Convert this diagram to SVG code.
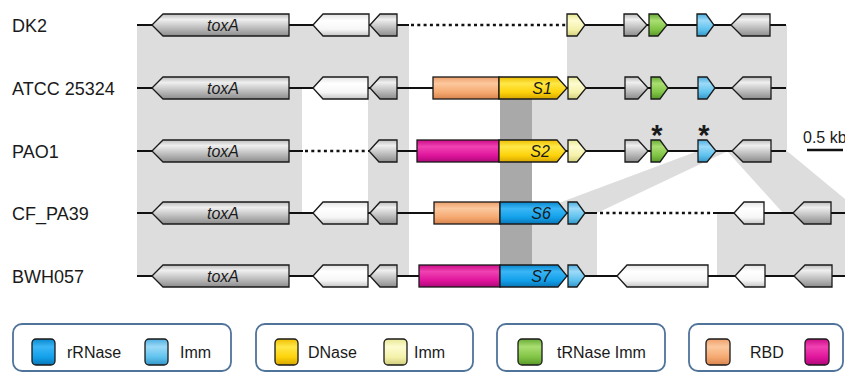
<svg xmlns="http://www.w3.org/2000/svg" width="845" height="375" viewBox="0 0 845 375">
  <defs>
    <linearGradient id="g-gray" x1="0" y1="0" x2="0" y2="1">
      <stop offset="0" stop-color="#bcbcbc"/><stop offset="0.25" stop-color="#efefef"/>
      <stop offset="0.55" stop-color="#c8c8c8"/><stop offset="1" stop-color="#8c8c8c"/>
    </linearGradient>
    <linearGradient id="g-white" x1="0" y1="0" x2="0" y2="1">
      <stop offset="0" stop-color="#e4e4e4"/><stop offset="0.3" stop-color="#ffffff"/>
      <stop offset="0.7" stop-color="#f6f6f6"/><stop offset="1" stop-color="#c6c6c6"/>
    </linearGradient>
    <linearGradient id="g-orange" x1="0" y1="0" x2="0" y2="1">
      <stop offset="0" stop-color="#eea06c"/><stop offset="0.3" stop-color="#fcc89e"/>
      <stop offset="0.7" stop-color="#f5a870"/><stop offset="1" stop-color="#d8844e"/>
    </linearGradient>
    <linearGradient id="g-magenta" x1="0" y1="0" x2="0" y2="1">
      <stop offset="0" stop-color="#cc0c88"/><stop offset="0.3" stop-color="#f042b2"/>
      <stop offset="0.7" stop-color="#e0159c"/><stop offset="1" stop-color="#ae0878"/>
    </linearGradient>
    <linearGradient id="g-yellow" x1="0" y1="0" x2="0" y2="1">
      <stop offset="0" stop-color="#eebe00"/><stop offset="0.3" stop-color="#ffe848"/>
      <stop offset="0.7" stop-color="#fdd20a"/><stop offset="1" stop-color="#d6a600"/>
    </linearGradient>
    <linearGradient id="g-paleyellow" x1="0" y1="0" x2="0" y2="1">
      <stop offset="0" stop-color="#e8e894"/><stop offset="0.3" stop-color="#fdfcd0"/>
      <stop offset="0.7" stop-color="#f4f1aa"/><stop offset="1" stop-color="#d2ce7e"/>
    </linearGradient>
    <linearGradient id="g-blue" x1="0" y1="0" x2="0" y2="1">
      <stop offset="0" stop-color="#0a88ce"/><stop offset="0.3" stop-color="#3ab6f6"/>
      <stop offset="0.7" stop-color="#12a0ea"/><stop offset="1" stop-color="#0a76b6"/>
    </linearGradient>
    <linearGradient id="g-lightblue" x1="0" y1="0" x2="0" y2="1">
      <stop offset="0" stop-color="#4eaee0"/><stop offset="0.3" stop-color="#9cdaf8"/>
      <stop offset="0.7" stop-color="#5ec2ee"/><stop offset="1" stop-color="#3696c6"/>
    </linearGradient>
    <linearGradient id="g-green" x1="0" y1="0" x2="0" y2="1">
      <stop offset="0" stop-color="#68ac36"/><stop offset="0.3" stop-color="#aade72"/>
      <stop offset="0.7" stop-color="#80c444"/><stop offset="1" stop-color="#58982a"/>
    </linearGradient>
  </defs>
  <style>
    .label { font-family: "Liberation Sans", Arial, sans-serif; font-size: 18px; fill: #1a1a1a; }
    .gname { font-family: "Liberation Sans", Arial, sans-serif; font-size: 16px; font-style: italic; fill: #1a1a1a; text-anchor: middle; }
    .leg { font-family: "Liberation Sans", Arial, sans-serif; font-size: 16px; fill: #1a1a1a; }
    .star { font-family: "Liberation Sans", Arial, sans-serif; font-size: 29px; font-weight: bold; fill: #1a1a1a; text-anchor: middle; }
    .gene { stroke: #1a1a1a; stroke-width: 1.3; stroke-linejoin: miter; }
    .gray { fill: url(#g-gray); }
    .white { fill: url(#g-white); }
    .orange { fill: url(#g-orange); }
    .magenta { fill: url(#g-magenta); }
    .yellow { fill: url(#g-yellow); }
    .paleyellow { fill: url(#g-paleyellow); }
    .blue { fill: url(#g-blue); }
    .lightblue { fill: url(#g-lightblue); }
    .green { fill: url(#g-green); }
    .shade { fill: #dddddd; }
    .shade-dark { fill: #a9a9a9; }
    .line { stroke: #111111; stroke-width: 2.2; fill: none; }
    .gap { stroke: #111111; stroke-width: 2.6; fill: none; stroke-dasharray: 3 3.3; }
    .box { fill: #ffffff; stroke: #50739a; stroke-width: 1.8; }
    .swatch { stroke: #1a1a1a; stroke-width: 1.3; }
  </style>

  <!-- homology shading between neighbouring loci -->
  <g id="alignments">
    <rect class="shade" x="137" y="25" width="165" height="251"/>
    <rect class="shade" x="368" y="25" width="41" height="251"/>
    <rect class="shade" x="302" y="25" width="66" height="63"/>
    <rect class="shade" x="302" y="213" width="66" height="63"/>
    <rect class="shade" x="567" y="25" width="220" height="63"/>
    <rect class="shade" x="532" y="88" width="255" height="63"/>
    <polygon class="shade" points="698,151 728,151 597,213 532,213"/>
    <polygon class="shade" points="727,151 787,151 862,213 783,213"/>
    <rect class="shade" x="532" y="213" width="65" height="63"/>
    <rect class="shade" x="717" y="213" width="128" height="63"/>
    <rect class="shade-dark" x="500" y="88" width="32" height="188"/>
  </g>

  <!-- chromosome backbones -->
  <g id="backbones">
    <line class="line" x1="137" y1="25" x2="409" y2="25"/>
    <line class="gap" x1="411" y1="25" x2="566" y2="25"/>
    <line class="line" x1="567" y1="25" x2="786" y2="25"/>
    <line class="line" x1="137" y1="88" x2="786" y2="88"/>
    <line class="line" x1="137" y1="151" x2="303" y2="151"/>
    <line class="gap" x1="305" y1="151" x2="368" y2="151"/>
    <line class="line" x1="368" y1="151" x2="786" y2="151"/>
    <line class="line" x1="137" y1="213" x2="597" y2="213"/>
    <line class="gap" x1="600" y1="213" x2="712" y2="213"/>
    <line class="line" x1="713" y1="213" x2="845" y2="213"/>
    <line class="line" x1="137" y1="276" x2="845" y2="276"/>
  </g>

  <!-- strain labels -->
  <g id="strain-labels">
    <text class="label" x="12" y="32">DK2</text>
    <text class="label" x="12" y="95">ATCC 25324</text>
    <text class="label" x="12" y="158">PAO1</text>
    <text class="label" x="12" y="220">CF_PA39</text>
    <text class="label" x="12" y="283">BWH057</text>
  </g>

  <!-- DK2 -->
  <g id="dk2">
    <g id="dk2-toxA"><path class="gene gray" d="M152 25 L163 14 L289 14 L289 36 L163 36Z"/><text class="gname" x="223" y="30.5">toxA</text></g>
    <g id="dk2-g2"><path class="gene white" d="M313 25 L323 14 L369 14 L369 36 L323 36Z"/></g>
    <g id="dk2-g3"><path class="gene gray" d="M370 25 L380 14 L397 14 L397 36 L380 36Z"/></g>
    <g id="dk2-imm"><path class="gene paleyellow" d="M567 14 L577 14 L585 25 L577 36 L567 36Z"/></g>
    <g id="dk2-g5"><path class="gene gray" d="M624 14 L637 14 L647 25 L637 36 L624 36Z"/></g>
    <g id="dk2-trimm"><path class="gene green" d="M649 14 L658 14 L667 25 L658 36 L649 36Z"/></g>
    <g id="dk2-rimm"><path class="gene lightblue" d="M697 14 L706 14 L714 25 L706 36 L697 36Z"/></g>
    <g id="dk2-g8"><path class="gene gray" d="M731 25 L742 14 L770 14 L770 36 L742 36Z"/></g>
  </g>

  <!-- ATCC 25324 -->
  <g id="atcc">
    <g id="atcc-toxA"><path class="gene gray" d="M152 88 L163 77 L289 77 L289 99 L163 99Z"/><text class="gname" x="223" y="93.5">toxA</text></g>
    <g id="atcc-g2"><path class="gene white" d="M313 88 L323 77 L368 77 L368 99 L323 99Z"/></g>
    <g id="atcc-g3"><path class="gene gray" d="M370 88 L380 77 L397 77 L397 99 L380 99Z"/></g>
    <g id="atcc-rbd"><rect class="gene orange" x="433" y="77" width="66" height="22"/></g>
    <g id="atcc-s1"><path class="gene yellow" d="M499 77 L557 77 L567 88 L557 99 L499 99Z"/><text class="gname" x="542" y="93.5">S1</text></g>
    <g id="atcc-imm"><path class="gene paleyellow" d="M568 77 L577 77 L586 88 L577 99 L568 99Z"/></g>
    <g id="atcc-g5"><path class="gene gray" d="M625 77 L638 77 L648 88 L638 99 L625 99Z"/></g>
    <g id="atcc-trimm"><path class="gene green" d="M651 77 L660 77 L668 88 L660 99 L651 99Z"/></g>
    <g id="atcc-rimm"><path class="gene lightblue" d="M698 77 L707 77 L715 88 L707 99 L698 99Z"/></g>
    <g id="atcc-g8"><path class="gene gray" d="M732 88 L743 77 L771 77 L771 99 L743 99Z"/></g>
  </g>

  <!-- PAO1 -->
  <g id="pao1">
    <g id="pao1-toxA"><path class="gene gray" d="M152 151 L163 140 L289 140 L289 162 L163 162Z"/><text class="gname" x="223" y="156.5">toxA</text></g>
    <g id="pao1-g3"><path class="gene gray" d="M369 151 L379 140 L397 140 L397 162 L379 162Z"/></g>
    <g id="pao1-rbd"><rect class="gene magenta" x="417" y="140" width="82" height="22"/></g>
    <g id="pao1-s2"><path class="gene yellow" d="M499 140 L557 140 L566 151 L557 162 L499 162Z"/><text class="gname" x="540" y="156.5">S2</text></g>
    <g id="pao1-imm"><path class="gene paleyellow" d="M568 140 L577 140 L586 151 L577 162 L568 162Z"/></g>
    <g id="pao1-g5"><path class="gene gray" d="M625 140 L638 140 L648 151 L638 162 L625 162Z"/></g>
    <g id="pao1-trimm"><path class="gene green" d="M651 140 L660 140 L668 151 L660 162 L651 162Z"/><text class="star" x="657" y="145">*</text></g>
    <g id="pao1-rimm"><path class="gene lightblue" d="M698 140 L707 140 L716 151 L707 162 L698 162Z"/><text class="star" x="704" y="145">*</text></g>
    <g id="pao1-g8"><path class="gene gray" d="M732 151 L743 140 L771 140 L771 162 L743 162Z"/></g>
  </g>

  <!-- CF_PA39 -->
  <g id="cfpa39">
    <g id="cf-toxA"><path class="gene gray" d="M152 213 L163 202 L289 202 L289 224 L163 224Z"/><text class="gname" x="223" y="218.5">toxA</text></g>
    <g id="cf-g2"><path class="gene white" d="M313 213 L323 202 L368 202 L368 224 L323 224Z"/></g>
    <g id="cf-g3"><path class="gene gray" d="M370 213 L380 202 L397 202 L397 224 L380 224Z"/></g>
    <g id="cf-rbd"><rect class="gene orange" x="434" y="202" width="66" height="22"/></g>
    <g id="cf-s6"><path class="gene blue" d="M500 202 L558 202 L567 213 L558 224 L500 224Z"/><text class="gname" x="541" y="218.5">S6</text></g>
    <g id="cf-imm"><path class="gene lightblue" d="M568 202 L577 202 L585 213 L577 224 L568 224Z"/></g>
    <g id="cf-g9"><path class="gene white" d="M734 213 L744 202 L764 202 L764 224 L744 224Z"/></g>
    <g id="cf-g10"><path class="gene gray" d="M793 213 L804 202 L831 202 L831 224 L804 224Z"/></g>
  </g>

  <!-- BWH057 -->
  <g id="bwh057">
    <g id="bwh-toxA"><path class="gene gray" d="M152 276 L163 265 L289 265 L289 287 L163 287Z"/><text class="gname" x="223" y="281.5">toxA</text></g>
    <g id="bwh-g2"><path class="gene white" d="M313 276 L323 265 L368 265 L368 287 L323 287Z"/></g>
    <g id="bwh-g3"><path class="gene gray" d="M370 276 L380 265 L397 265 L397 287 L380 287Z"/></g>
    <g id="bwh-rbd"><rect class="gene magenta" x="419" y="265" width="81" height="22"/></g>
    <g id="bwh-s7"><path class="gene blue" d="M500 265 L558 265 L567 276 L558 287 L500 287Z"/><text class="gname" x="541" y="281.5">S7</text></g>
    <g id="bwh-imm"><path class="gene lightblue" d="M568 265 L577 265 L585 276 L577 287 L568 287Z"/></g>
    <g id="bwh-g11"><path class="gene white" d="M617 276 L627 265 L708 265 L708 287 L627 287Z"/></g>
    <g id="bwh-g9"><path class="gene white" d="M735 276 L745 265 L765 265 L765 287 L745 287Z"/></g>
    <g id="bwh-g10"><path class="gene gray" d="M794 276 L805 265 L832 265 L832 287 L805 287Z"/></g>
  </g>

  <!-- scale bar -->
  <g id="scale">
    <text class="leg" x="803" y="143">0.5 kb</text>
    <line x1="807" y1="150" x2="843" y2="150" stroke="#111111" stroke-width="2.5"/>
  </g>

  <!-- legend -->
  <g id="legend-rrnase">
    <rect class="box" x="13" y="324" width="218" height="47" rx="9"/>
    <rect class="swatch blue" x="32" y="339" width="23" height="26" rx="4"/>
    <text class="leg" x="67" y="358">rRNase</text>
    <rect class="swatch lightblue" x="145" y="339" width="23" height="26" rx="4"/>
    <text class="leg" x="180" y="358">Imm</text>
  </g>
  <g id="legend-dnase">
    <rect class="box" x="256" y="324" width="217" height="47" rx="9"/>
    <rect class="swatch yellow" x="275" y="339" width="23" height="26" rx="4"/>
    <text class="leg" x="308" y="358">DNase</text>
    <rect class="swatch paleyellow" x="384" y="339" width="23" height="26" rx="4"/>
    <text class="leg" x="414" y="358">Imm</text>
  </g>
  <g id="legend-trnase">
    <rect class="box" x="497" y="324" width="168" height="47" rx="9"/>
    <rect class="swatch green" x="518" y="339" width="24" height="26" rx="4"/>
    <text class="leg" x="557" y="358">tRNase Imm</text>
  </g>
  <g id="legend-rbd">
    <rect class="box" x="689" y="324" width="154" height="47" rx="9"/>
    <rect class="swatch orange" x="706" y="339" width="24" height="26" rx="4"/>
    <text class="leg" x="750" y="358">RBD</text>
    <rect class="swatch magenta" x="805" y="339" width="24" height="26" rx="4"/>
  </g>
</svg>
